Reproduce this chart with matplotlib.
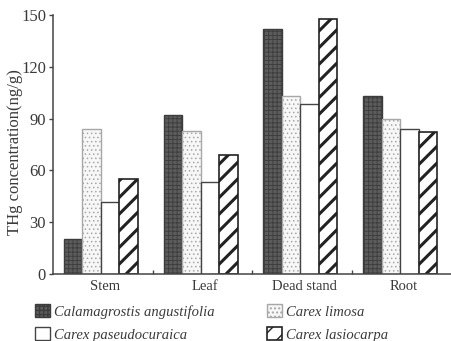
import numpy as np
import matplotlib
matplotlib.use("Agg")
import matplotlib.pyplot as plt
from matplotlib.patches import Patch

# -----------------------------
# DATA
# -----------------------------
tissues = ["Stem", "Leaf", "Dead stand", "Root"]
species = ["Calamagrostis angustifolia", "Carex limosa",
           "Carex paseudocuraica", "Carex lasiocarpa"]

calamagrostis = [20, 92, 142, 103]
limosa = [84, 83, 103, 90]
paseudocuraica = [41.5, 53, 98.5, 84]
lasiocarpa = [55, 69, 147.5, 82.5]

y_ticks = [0, 30, 60, 90, 120, 150]

# -----------------------------
# STYLE
# -----------------------------
plt.rcParams["font.family"] = ["Liberation Serif", "DejaVu Serif"]
text_col = "#3a3a3a"
line_col = "#444444"

styles = [
    dict(facecolor="#5c5c5c", edgecolor="#3c3c3c", hatch="++++", lw=1.0),
    dict(facecolor="#f7f7f7", edgecolor="#a8a8a8", hatch="....", lw=1.0),
    dict(facecolor="white", edgecolor="#444444", hatch=None, lw=1.0),
    dict(facecolor="white", edgecolor="#222222", hatch="//", lw=1.2),
]
hatch_lw = [0.6, 0.6, 1.0, 2.2]

fig = plt.figure(figsize=(4.52, 3.41), dpi=100)
ax = fig.add_axes([53 / 452, 67 / 341, 399 / 452, 259 / 341])

x = np.arange(len(tissues))
width = 0.185
series = [calamagrostis, limosa, paseudocuraica, lasiocarpa]
offsets = (np.arange(4) - 1.5) * width + 0.48

handles = []
for vals, st, off, hl, name in zip(series, styles, offsets, hatch_lw, species):
    with plt.rc_context({"hatch.linewidth": hl}):
        ax.bar(x + off, vals, width, facecolor=st["facecolor"],
               edgecolor=st["edgecolor"], hatch=st["hatch"],
               linewidth=st["lw"], zorder=2)
        handles.append(Patch(facecolor=st["facecolor"], edgecolor=st["edgecolor"],
                             hatch=st["hatch"], linewidth=st["lw"], label=name))

ax.set_xlim(0, 4)
ax.set_ylim(0, 150)

for side in ["top", "right"]:
    ax.spines[side].set_visible(False)
ax.spines["left"].set_color(line_col)
ax.spines["bottom"].set_color(line_col)
ax.spines["left"].set_linewidth(1.1)
ax.spines["bottom"].set_linewidth(1.1)

ax.set_yticks(y_ticks)
ax.tick_params(axis="y", direction="out", length=3, width=1, color=line_col,
               labelsize=12, labelcolor=text_col, pad=2)

ax.set_xticks([1, 2, 3])
ax.set_xticklabels([])
ax.tick_params(axis="x", which="major", direction="in", length=3, width=1,
               color=line_col)
ax.set_xticks(x + 0.52, minor=True)
ax.set_xticklabels(tissues, minor=True)
ax.tick_params(axis="x", which="minor", length=0, labelsize=10.5,
               labelcolor=text_col, pad=4)

ax.set_ylabel("THg concentration(ng/g)", fontsize=12, color=text_col)
ax.yaxis.set_label_coords(-0.075, 0.47)

order = [0, 2, 1, 3]
leg = fig.legend([handles[i] for i in order], [species[i] for i in order],
                 ncol=2, loc="upper left", bbox_to_anchor=(22 / 452, 1 - 291 / 341),
                 frameon=False, handlelength=1.0, handleheight=1.0,
                 handletextpad=0.3, columnspacing=3.6, labelspacing=0.6,
                 prop=dict(style="italic", size=10.5))
for t in leg.get_texts():
    t.set_color(text_col)

fig.savefig("out.png", dpi=100)
